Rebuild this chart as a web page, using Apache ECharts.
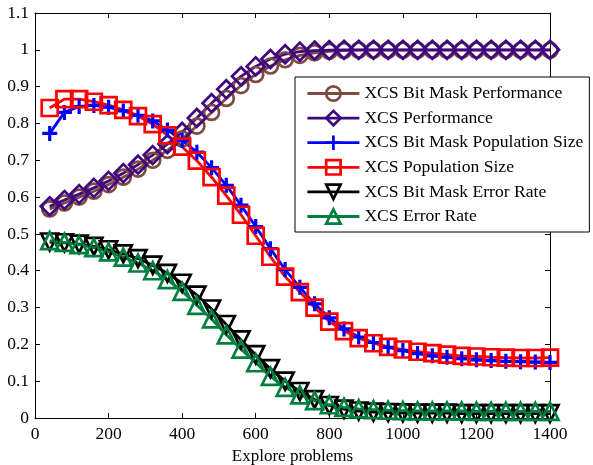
<!DOCTYPE html>
<html>
<head>
<meta charset="utf-8">
<script src="https://cdn.jsdelivr.net/npm/echarts@6/dist/echarts.min.js"></script>
<style>
  html, body { margin: 0; padding: 0; background: #fff; }
  #chart { width: 593px; height: 465px; }
</style>
</head>
<body>
<div id="chart"></div>
<script>
// Number of explore problems at each sample
const explore = [40, 80, 120, 160, 200, 240, 280, 320, 360, 400, 440, 480, 520, 560, 600,
  640, 680, 720, 760, 800, 840, 880, 920, 960, 1000, 1040, 1080, 1120, 1160, 1200,
  1240, 1280, 1320, 1360, 1400];

const bitMaskPerformance = [0.568, 0.584, 0.600, 0.616, 0.634, 0.654, 0.676, 0.700, 0.727, 0.758,
  0.793, 0.830, 0.868, 0.903, 0.933, 0.956, 0.973, 0.985, 0.992, 0.996,
  0.998, 0.999, 0.999, 0.999, 0.999, 0.999, 0.999, 0.999, 0.999, 0.999,
  0.999, 0.999, 0.999, 0.999, 0.999];

const performance = [0.575, 0.592, 0.608, 0.625, 0.644, 0.665, 0.688, 0.714, 0.744, 0.777,
  0.815, 0.855, 0.893, 0.928, 0.955, 0.975, 0.988, 0.995, 0.998, 0.999,
  1.000, 1.000, 1.000, 1.000, 1.000, 1.000, 1.000, 1.000, 1.000, 1.000,
  1.000, 1.000, 1.000, 1.000, 1.000];

const bitMaskPopulation = [0.773, 0.830, 0.846, 0.849, 0.844, 0.834, 0.822, 0.807, 0.782, 0.754,
  0.722, 0.680, 0.632, 0.578, 0.520, 0.460, 0.403, 0.355, 0.310, 0.272,
  0.242, 0.220, 0.205, 0.192, 0.183, 0.175, 0.169, 0.165, 0.161, 0.158,
  0.156, 0.154, 0.153, 0.152, 0.151];

const population = [0.842, 0.866, 0.866, 0.859, 0.850, 0.837, 0.820, 0.798, 0.768, 0.737,
  0.699, 0.654, 0.604, 0.552, 0.495, 0.438, 0.384, 0.342, 0.300, 0.262,
  0.236, 0.217, 0.203, 0.193, 0.186, 0.180, 0.176, 0.172, 0.169, 0.167,
  0.165, 0.164, 0.163, 0.163, 0.164];

const bitMaskError = [0.478, 0.476, 0.472, 0.466, 0.457, 0.446, 0.433, 0.415, 0.393, 0.366,
  0.334, 0.296, 0.254, 0.212, 0.172, 0.134, 0.100, 0.072, 0.050, 0.034,
  0.024, 0.019, 0.016, 0.015, 0.014, 0.013, 0.013, 0.013, 0.012, 0.012,
  0.012, 0.012, 0.012, 0.012, 0.012];

const errorRate = [0.482, 0.477, 0.471, 0.463, 0.451, 0.437, 0.421, 0.400, 0.376, 0.344,
  0.306, 0.269, 0.226, 0.187, 0.150, 0.113, 0.083, 0.063, 0.047, 0.036,
  0.029, 0.025, 0.023, 0.021, 0.020, 0.019, 0.019, 0.019, 0.019, 0.018,
  0.018, 0.018, 0.018, 0.018, 0.018];

const FONT = 'Liberation Serif, Times New Roman, serif';

function pairs(ys) {
  return explore.map((x, i) => [x, ys[i]]);
}

function makeSeries(name, ys, color, symbol, size, extra) {
  return Object.assign({
    name: name,
    type: 'line',
    data: pairs(ys),
    symbol: symbol,
    symbolSize: size,
    showAllSymbol: true,
    clip: false,
    lineStyle: { color: color, width: 2.8 },
    itemStyle: { color: 'rgba(0,0,0,0)', borderColor: color, borderWidth: 2.7 },
    emphasis: { disabled: true },
    animation: false
  }, extra || {});
}

const axisCommon = {
  axisLine: { show: true, onZero: false, lineStyle: { color: '#000', width: 1 } },
  axisTick: { show: true, inside: true, length: 5, lineStyle: { color: '#000', width: 1 } },
  splitLine: { show: false }
};

const chart = echarts.init(document.getElementById('chart'), null, { renderer: 'canvas' });

chart.setOption({
  backgroundColor: '#fff',
  animation: false,
  grid: { left: 35, right: 43, top: 13, bottom: 47, containLabel: false, outerBoundsMode: 'none' },
  xAxis: [
    Object.assign({
      type: 'value', min: 0, max: 1400, interval: 200, position: 'bottom',
      name: 'Explore problems', nameLocation: 'middle', nameGap: 26,
      nameTextStyle: { fontFamily: FONT, fontSize: 17, color: '#000' },
      axisLabel: {
        fontFamily: FONT, fontSize: 17.5, color: '#000', margin: 7,
        formatter: v => String(v)
      }
    }, axisCommon),
    Object.assign({
      type: 'value', min: 0, max: 1400, interval: 200, position: 'top',
      axisLabel: { show: false }
    }, axisCommon)
  ],
  yAxis: [
    Object.assign({
      type: 'value', min: 0, max: 1.1, interval: 0.1, position: 'left',
      axisLabel: {
        fontFamily: FONT, fontSize: 17.5, color: '#000', margin: 6,
        formatter: v => String(+v.toFixed(1))
      }
    }, axisCommon),
    Object.assign({
      type: 'value', min: 0, max: 1.1, interval: 0.1, position: 'right',
      axisLabel: { show: false }
    }, axisCommon)
  ],
  legend: {
    orient: 'vertical',
    left: 295,
    top: 77,
    padding: [7, 6, 6, 11],
    itemWidth: 52,
    itemHeight: 18,
    itemGap: 5.6,
    backgroundColor: '#fff',
    borderColor: '#000',
    borderWidth: 1,
    borderRadius: 0,
    selectedMode: false,
    itemStyle: { borderWidth: 2.7 },
    lineStyle: { width: 2.8 },
    textStyle: { fontFamily: FONT, fontSize: 17.6, color: '#000', lineHeight: 19 },
    data: ['XCS Bit Mask Performance', 'XCS Performance', 'XCS Bit Mask Population Size',
      'XCS Population Size', 'XCS Bit Mask Error Rate', 'XCS Error Rate']
  },
  series: [
    makeSeries('XCS Bit Mask Performance', bitMaskPerformance, '#7f4a40', 'circle', 15),
    makeSeries('XCS Performance', performance, '#40087f', 'diamond', 18),
    makeSeries('XCS Bit Mask Population Size', bitMaskPopulation, '#0000ff',
      'path://M0,7 L14,7 M7,0 L7,14', 15,
      { itemStyle: { color: 'rgba(0,0,0,0)', borderColor: '#0000ff', borderWidth: 3.2 } }),
    makeSeries('XCS Population Size', population, '#ff0000', 'rect', 16),
    makeSeries('XCS Bit Mask Error Rate', bitMaskError, '#000000',
      'path://M0,0 L16,0 L8,14 Z', 17),
    makeSeries('XCS Error Rate', errorRate, '#007f3f', 'path://M8,0 L16,14 L0,14 Z', 17)
  ]
});
</script>
</body>
</html>
